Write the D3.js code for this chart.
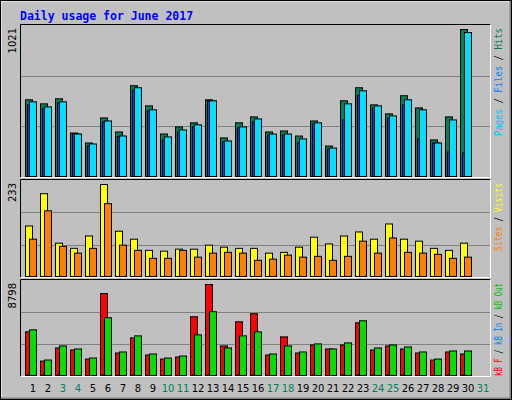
<!DOCTYPE html>
<html>
<head>
<meta charset="UTF-8" />
<script src="https://cdn.jsdelivr.net/npm/d3@7/dist/d3.min.js"></script>
<style>body{margin:0}</style>
</head>
<body>
<svg id="vis" width="512" height="400"></svg>
<script>
const days = d3.range(1, 32);
const weekend = [3, 4, 10, 11, 17, 18, 24, 25, 31];
const hits = [536,508,543,307,238,411,314,633,494,300,349,377,536,273,377,418,314,321,286,390,217,529,619,501,439,564,480,259,418,1021];
const files = [501,474,515,300,219,383,284,601,460,259,314,349,529,245,342,383,293,293,238,370,196,397,564,480,411,501,266,238,176,169];
const pages = [522,487,522,300,231,390,286,619,467,280,328,363,529,252,349,404,300,300,266,377,203,508,598,494,425,536,467,238,397,1000];
const visits = [129,210,86,73,104,233,116,96,68,66,71,71,81,76,73,73,61,63,76,101,84,104,114,96,134,96,91,73,68,86];
const sites = [96,167,78,61,73,185,81,68,48,48,68,51,61,63,61,43,46,56,51,53,43,53,91,61,99,63,61,58,48,51];
const kbF = [4270,1477,2729,2536,1669,7929,2247,3692,2054,1669,1862,5714,8798,2921,5232,6003,2054,3788,2247,3017,2632,3017,5136,2536,2921,2632,2247,1573,2343,2151];
const kbIn = [150,150,150,60,60,150,60,150,60,60,60,150,150,60,150,150,60,60,60,150,60,150,150,150,150,150,60,60,150,150];
const kbOut = [4462,1573,2921,2632,1766,5618,2343,3884,2151,1766,1958,3980,6195,2729,3884,4270,2151,2921,2343,3114,2632,3210,5329,2729,3017,2825,2343,1669,2440,2440];
const maxLabels = ["1021", "233", "8798"];

const svg = d3.select("#vis");
svg.append("rect").attr("width", 512).attr("height", 400).attr("fill", "#c0c0c0");
svg.append("path").attr("d", "M1,399V1H511").attr("stroke", "#fff").attr("fill", "none");
svg.append("path").attr("d", "M1,398.5H510.5V1").attr("stroke", "#808080").attr("stroke-width", 2).attr("fill", "none");
svg.append("rect").attr("x", 0.5).attr("y", 0.5).attr("width", 511).attr("height", 399).attr("fill", "none").attr("stroke", "#000");

svg.append("text").attr("x", 20).attr("y", 20).text("Daily usage for June 2017")
  .attr("font-family", "DejaVu Sans Mono").attr("font-weight", "bold").attr("font-size", 11.5).attr("fill", "#0000ff");

const x = d3.scaleLinear().domain([1, 31]).range([25, 475]);

const panels = [
  {y0: 25, y1: 177, max: 1021, top: 29, len: 108, series: [[hits, "#00805c", 0], [files, "#0040ff", 2], [pages, "#00e0ff", 4]],
   labels: [["Pages", "#00c0ff"], ["Files", "#0080ff"], ["Hits", "#00805c"]]},
  {y0: 180, y1: 277, max: 233, top: 184, len: 68, series: [[visits, "#ffff00", 0], [sites, "#ff8000", 4]],
   labels: [["Sites", "#ff8000"], ["Visits", "#ffff00"]]},
  {y0: 280, y1: 376, max: 8798, top: 284, len: 93, series: [[kbF, "#ff0000", 0], [kbIn, "#0080ff", 2], [kbOut, "#00e000", 4]],
   labels: [["kB F", "#ff0000"], ["kB In", "#0080ff"], ["kB Out", "#00c000"]]}
];

panels.forEach(function (p, pi) {
  const y = d3.scaleLinear().domain([0, p.max]).range([p.y1, p.top]);
  const g = svg.append("g");
  [1, 2].forEach(function (k) {
    const gy = Math.round(p.y0 + (p.y1 - p.y0) * k / 3) + 0.5;
    g.append("line").attr("x1", 21).attr("x2", 490).attr("y1", gy).attr("y2", gy).attr("stroke", "#808080");
  });
  p.series.forEach(function (s) {
    g.selectAll(null).data(s[0]).enter().append("rect")
      .attr("x", (d, i) => x(i + 1) + s[2] + 0.5)
      .attr("y", d => y(d) + 0.5)
      .attr("width", 7)
      .attr("height", d => Math.max(0, p.y1 - y(d) - 1))
      .attr("fill", s[1]).attr("stroke", "#000");
  });
  g.append("path").attr("d", `M20.5,${p.y1 + 0.5}V${p.y0 - 0.5}H490.5`).attr("stroke", "#000").attr("fill", "none");
  g.append("path").attr("d", `M20.5,${p.y1 + 0.5}H490.5V${p.y0 - 0.5}`).attr("stroke", "#fff").attr("fill", "none");
  g.append("text").attr("transform", `translate(16,${p.y0 + 3}) rotate(-90)`).attr("text-anchor", "end")
    .attr("font-family", "DejaVu Sans").attr("font-size", 10).text(maxLabels[pi]);
  const t = g.append("text").attr("transform", `translate(502,${p.y0 + 3 + p.len}) rotate(-90)`)
    .attr("font-family", "DejaVu Sans Mono").attr("font-size", 10)
    .attr("textLength", p.len).attr("lengthAdjust", "spacingAndGlyphs");
  p.labels.forEach(function (l, li) {
    if (li > 0) t.append("tspan").attr("fill", "#000").text(" / ");
    t.append("tspan").attr("fill", l[1]).text(l[0]);
  });
});

svg.selectAll(".day").data(days).enter().append("text")
  .attr("x", d => x(d) + 8).attr("y", 392).attr("text-anchor", "middle")
  .attr("font-family", "DejaVu Sans").attr("font-size", 10)
  .attr("fill", d => weekend.includes(d) ? "#00805c" : "#000").text(d => d);
</script>
</body>
</html>
